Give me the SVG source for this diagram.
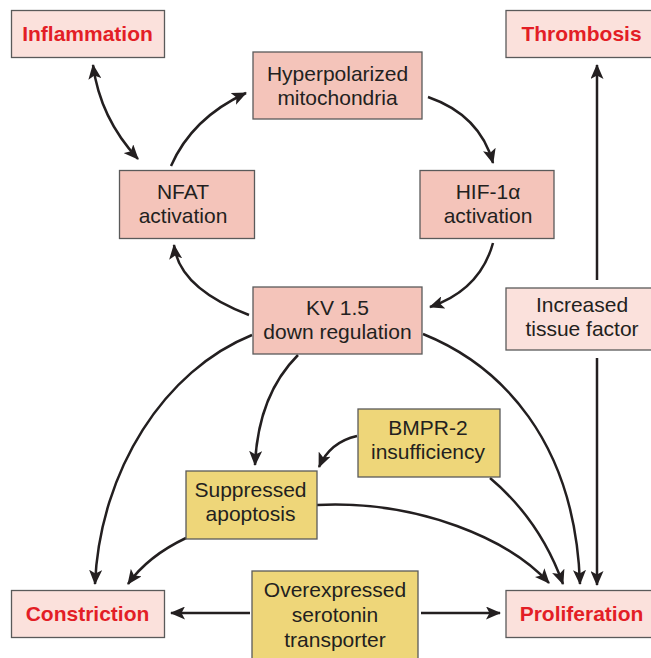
<svg xmlns="http://www.w3.org/2000/svg" width="651" height="658" viewBox="0 0 651 658">
<defs>
<marker id="ah" viewBox="0 0 15 13" refX="14" refY="6.5" markerWidth="15" markerHeight="13" markerUnits="userSpaceOnUse" orient="auto-start-reverse">
<path d="M0,0 L15,6.5 L0,13 L3.5,6.5 z" fill="#231f20"/>
</marker>
</defs>
<style>
.box{stroke:#5a5a5a;stroke-width:1.3}
.dk{fill:#f4c4ba}
.lt{fill:#fbe1dc}
.yl{fill:#eed679}
.t{font-family:"Liberation Sans",Arial,sans-serif;font-size:21px;fill:#231f20;text-anchor:middle}
.r{font-family:"Liberation Sans",Arial,sans-serif;font-size:21px;font-weight:bold;fill:#e31e26;text-anchor:middle}
.c{fill:none;stroke:#231f20;stroke-width:2.5}
</style>
<rect width="651" height="658" fill="#ffffff"/>
<g id="connectors">
<path class="c" d="M93,65 Q100,118 138,159" marker-start="url(#ah)" marker-end="url(#ah)"/>
<path class="c" d="M171,166 Q192,118 246,93" marker-end="url(#ah)"/>
<path class="c" d="M428,97 Q480,115 493,163" marker-end="url(#ah)"/>
<path class="c" d="M493,243 Q480,290 430,307" marker-end="url(#ah)"/>
<path class="c" d="M249,315 C215,302 178,280 174,245" marker-end="url(#ah)"/>
<path class="c" d="M252,335 C165,370 100,470 95,584" marker-end="url(#ah)"/>
<path class="c" d="M298,355 Q258,395 255,465" marker-end="url(#ah)"/>
<path class="c" d="M423,334 C500,365 575,440 580,584" marker-end="url(#ah)"/>
<path class="c" d="M357,436 Q330,442 319,467" marker-end="url(#ah)"/>
<path class="c" d="M490,478 Q540,520 563,584" marker-end="url(#ah)"/>
<path class="c" d="M317,505 C420,500 510,540 549,583" marker-end="url(#ah)"/>
<path class="c" d="M597,280 L597,65" marker-end="url(#ah)"/>
<path class="c" d="M597,358 L597,585" marker-end="url(#ah)"/>
<path class="c" d="M186,538 Q148,556 128,584" marker-end="url(#ah)"/>
<path class="c" d="M250,613 L171,613" marker-end="url(#ah)"/>
<path class="c" d="M421,613 L500,613" marker-end="url(#ah)"/>
</g>
<g id="inflammation">
<rect class="box lt" x="11.5" y="10.5" width="153" height="47"/>
<text class="r" x="87.5" y="41">Inflammation</text>
</g>
<g id="thrombosis">
<rect class="box lt" x="506" y="10.5" width="150" height="47"/>
<text class="r" x="581.5" y="41">Thrombosis</text>
</g>
<g id="hyperpolarized">
<rect class="box dk" x="253" y="52" width="169" height="67"/>
<text class="t" x="337.5" y="81">Hyperpolarized</text>
<text class="t" x="337.5" y="105">mitochondria</text>
</g>
<g id="nfat">
<rect class="box dk" x="119.5" y="170.5" width="135" height="68"/>
<text class="t" x="183" y="199">NFAT</text>
<text class="t" x="183" y="223">activation</text>
</g>
<g id="hif">
<rect class="box dk" x="420" y="170.5" width="134" height="68"/>
<text class="t" x="488" y="199">HIF-1α</text>
<text class="t" x="488" y="223">activation</text>
</g>
<g id="kv">
<rect class="box dk" x="253" y="287" width="169" height="67"/>
<text class="t" x="337.5" y="315">KV 1.5</text>
<text class="t" x="337.5" y="339">down regulation</text>
</g>
<g id="tissue">
<rect class="box lt" x="506" y="288" width="150" height="62"/>
<text class="t" x="582" y="312">Increased</text>
<text class="t" x="582" y="336">tissue factor</text>
</g>
<g id="bmpr">
<rect class="box yl" x="358" y="409" width="142" height="68"/>
<text class="t" x="428" y="435">BMPR-2</text>
<text class="t" x="428" y="459">insufficiency</text>
</g>
<g id="apoptosis">
<rect class="box yl" x="186" y="471" width="131" height="68"/>
<text class="t" x="250.5" y="497">Suppressed</text>
<text class="t" x="250.5" y="521">apoptosis</text>
</g>
<g id="serotonin">
<rect class="box yl" x="252" y="571" width="166" height="95"/>
<text class="t" x="335" y="597">Overexpressed</text>
<text class="t" x="335" y="622">serotonin</text>
<text class="t" x="335" y="647">transporter</text>
</g>
<g id="constriction">
<rect class="box lt" x="11.5" y="590.5" width="153" height="47"/>
<text class="r" x="87.5" y="621">Constriction</text>
</g>
<g id="proliferation">
<rect class="box lt" x="506" y="590.5" width="150" height="47"/>
<text class="r" x="581.5" y="621">Proliferation</text>
</g>
</svg>
